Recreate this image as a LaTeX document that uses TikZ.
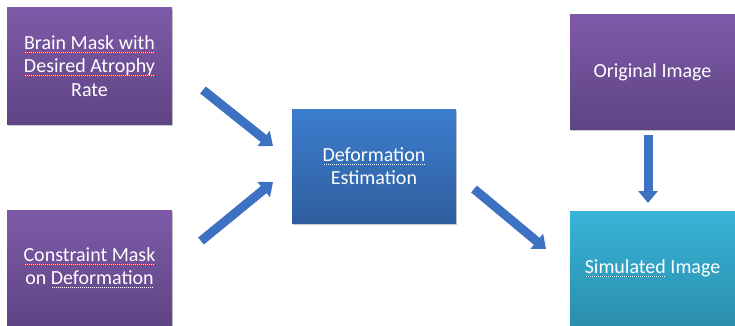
\documentclass[tikz,border=0pt]{standalone}
\usepackage{fontspec}
\setmainfont{Carlito}
\usetikzlibrary{arrows.meta,shadows}
\definecolor{purpTop}{HTML}{7E5AA8}
\definecolor{purpBot}{HTML}{5F4485}
\definecolor{blueTop}{HTML}{3C7DCE}
\definecolor{blueBot}{HTML}{2F5E9E}
\definecolor{cyanTop}{HTML}{38B4D8}
\definecolor{cyanBot}{HTML}{2A8EAC}
\definecolor{arrowblue}{HTML}{3D72C2}
\definecolor{spellred}{HTML}{E8202A}
\newsavebox\spellbox
\newcommand\spellerr[1]{\sbox\spellbox{#1}\rlap{\usebox\spellbox}\raisebox{-3.6pt}{\leaders\hbox to 2pt{{\color{spellred}\rule{1pt}{1pt}}{\color{white}\rule{1pt}{1pt}}}\hskip\wd\spellbox}}
\begin{document}
\begin{tikzpicture}[x=1pt,y=-1pt,
  box/.style={inner sep=0pt, draw=none, align=center, text=white,
    font=\fontsize{20}{23.5}\selectfont,
    drop shadow={shadow xshift=1pt, shadow yshift=-2pt, opacity=0.35, fill=black!60}},
  purplebox/.style={box, top color=purpTop, bottom color=purpBot},
  bluebox/.style={box, top color=blueTop, bottom color=blueBot},
  cyanbox/.style={box, top color=cyanTop, bottom color=cyanBot},
  flow/.style={draw=arrowblue, line width=9pt, -{Triangle[length=12pt,width=19pt]}}]
\useasboundingbox (0,0) rectangle (735,326);
\node[purplebox, minimum width=165pt, minimum height=116pt] (brain) at (89.5,66)
  {\spellerr{Brain Mask with}\\\spellerr{Desired Atrophy}\\Rate};
\node[purplebox, minimum width=165pt, minimum height=116pt] (constraint) at (89.5,268)
  {\spellerr{Constraint Mask}\\on \spellerr{Deformation}};
\node[bluebox, minimum width=164pt, minimum height=114pt] (deform) at (374,166)
  {\spellerr{Deformation}\\Estimation};
\node[purplebox, minimum width=165pt, minimum height=114pt] (orig) at (652.5,72)
  {Original Image};
\node[cyanbox, minimum width=165pt, minimum height=115pt] (sim) at (652.5,268.5)
  {\spellerr{Simulated} Image};
\coordinate (a1s) at (203,90);
\coordinate (a1e) at (273,146);
\coordinate (a2s) at (201,241);
\coordinate (a2e) at (273,182);
\coordinate (a3s) at (474,189);
\coordinate (a3e) at (546,249);
\coordinate (a4s) at (648,135);
\coordinate (a4e) at (648,203);
\draw[flow] (a1s) -- (a1e);
\draw[flow] (a2s) -- (a2e);
\draw[flow] (a3s) -- (a3e);
\draw[flow] (a4s) -- (a4e);
\end{tikzpicture}
\end{document}
